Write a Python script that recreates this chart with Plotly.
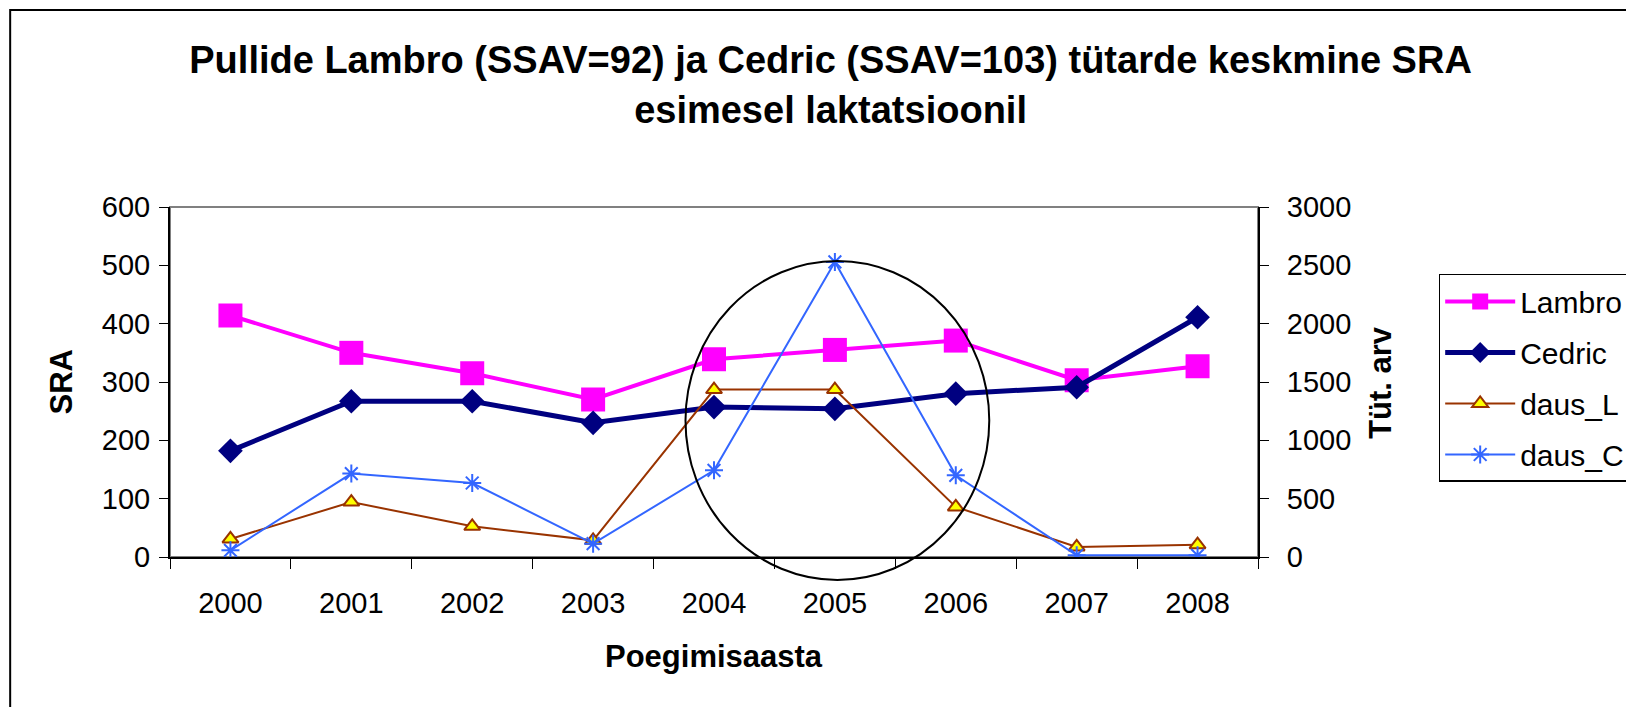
import plotly.graph_objects as go

years = ["2000", "2001", "2002", "2003", "2004", "2005", "2006", "2007", "2008"]
lambro = [414, 350, 315, 270, 339, 355, 371, 303, 327]
cedric = [182, 267, 267, 230, 257, 254, 280, 291, 411]
daus_L = [155, 471, 263, 143, 1435, 1435, 429, 86, 106]
daus_C = [57, 715, 634, 114, 743, 2529, 700, 14, 14]

FONT = "Liberation Sans, Arial, sans-serif"

fig = go.Figure()
fig.add_trace(go.Scatter(
    x=years, y=lambro, name="Lambro", mode="lines+markers", legendgroup="a",
    line=dict(color="#FF00FF", width=4),
    marker=dict(symbol="square", size=24, color="#FF00FF"),
))
fig.add_trace(go.Scatter(
    x=years, y=cedric, name="Cedric", mode="lines+markers", legendgroup="b",
    line=dict(color="#000080", width=5),
    marker=dict(symbol="diamond", size=19, color="#000080"),
))
fig.add_trace(go.Scatter(
    x=years, y=daus_L, name="daus_L", mode="lines+markers", yaxis="y2", legendgroup="c",
    line=dict(color="#993300", width=2),
    marker=dict(symbol="triangle-up", size=14, color="#FFFF00",
                line=dict(color="#993300", width=2)),
))
fig.add_trace(go.Scatter(
    x=years, y=daus_C, name="daus_C", mode="lines+markers", yaxis="y2", legendgroup="d",
    line=dict(color="#3366FF", width=2),
    marker=dict(symbol="asterisk-open", size=15, color="#3366FF",
                line=dict(color="#3366FF", width=2)),
))

fig.update_layout(
    width=1634, height=707,
    margin=dict(l=162, r=383, t=199, b=158),
    paper_bgcolor="white", plot_bgcolor="white",
    font=dict(family=FONT, color="black"),
    showlegend=True,
    title=dict(
        text="<b>Pullide Lambro (SSAV=92) ja Cedric (SSAV=103) tütarde keskmine SRA<br>esimesel laktatsioonil</b>",
        x=0.5034, xanchor="center", y=0.9078, yanchor="middle",
        font=dict(size=38, family=FONT, color="black"),
    ),
    xaxis=dict(
        type="category", tickson="boundaries", ticks="outside", ticklen=10,
        tickcolor="black", showline=True, linecolor="black", linewidth=2,
        showgrid=False, tickfont=dict(size=29), ticklabelstandoff=19,
        range=[-0.5, 8.5],
    ),
    yaxis=dict(
        range=[0, 600], dtick=100, ticks="outside", ticklen=9, tickcolor="black",
        showline=True, linecolor="black", linewidth=2, showgrid=False,
        zeroline=False, tickfont=dict(size=29), ticklabelstandoff=3,
    ),
    yaxis2=dict(
        range=[0, 3000], dtick=500, overlaying="y", side="right",
        ticks="outside", ticklen=9, tickcolor="black",
        showline=True, linecolor="black", linewidth=2, showgrid=False,
        zeroline=False, tickfont=dict(size=29), ticklabelstandoff=12,
    ),
    legend=dict(
        x=1.165, xanchor="left", y=0.8086, yanchor="top",
        bordercolor="black", borderwidth=1.5, bgcolor="white",
        font=dict(size=30, family=FONT), itemwidth=70,
        tracegroupgap=9, traceorder="grouped",
    ),
)

# axis titles
fig.add_annotation(text="<b>SRA</b>", xref="paper", yref="paper",
                   x=-0.1006, y=0.5, xanchor="center", yanchor="middle",
                   textangle=-90, showarrow=False,
                   font=dict(size=31, family=FONT))
fig.add_annotation(text="<b>Tüt. arv</b>", xref="paper", yref="paper",
                   x=1.112, y=0.5, xanchor="center", yanchor="middle",
                   textangle=-90, showarrow=False,
                   font=dict(size=31, family=FONT))
fig.add_annotation(text="<b>Poegimisaasta</b>", xref="paper", yref="paper",
                   x=0.5, y=-0.283, xanchor="center", yanchor="middle",
                   showarrow=False, font=dict(size=31, family=FONT))

# plot-area border (gray) and outer chart border
fig.add_shape(type="rect", xref="paper", yref="paper", x0=0, x1=1, y0=0, y1=1,
              line=dict(color="#808080", width=2), layer="below")
fig.add_shape(type="rect", xref="paper", yref="paper",
              x0=-0.1469, x1=1.45, y0=-0.5, y1=1.563,
              line=dict(color="black", width=2), layer="below")
# highlight circle around 2005
fig.add_shape(type="circle", xref="paper", yref="paper",
              x0=0.4738, x1=0.753, y0=-0.0657, y1=0.8457,
              line=dict(color="black", width=2), layer="above")

fig.write_html("out.html")
